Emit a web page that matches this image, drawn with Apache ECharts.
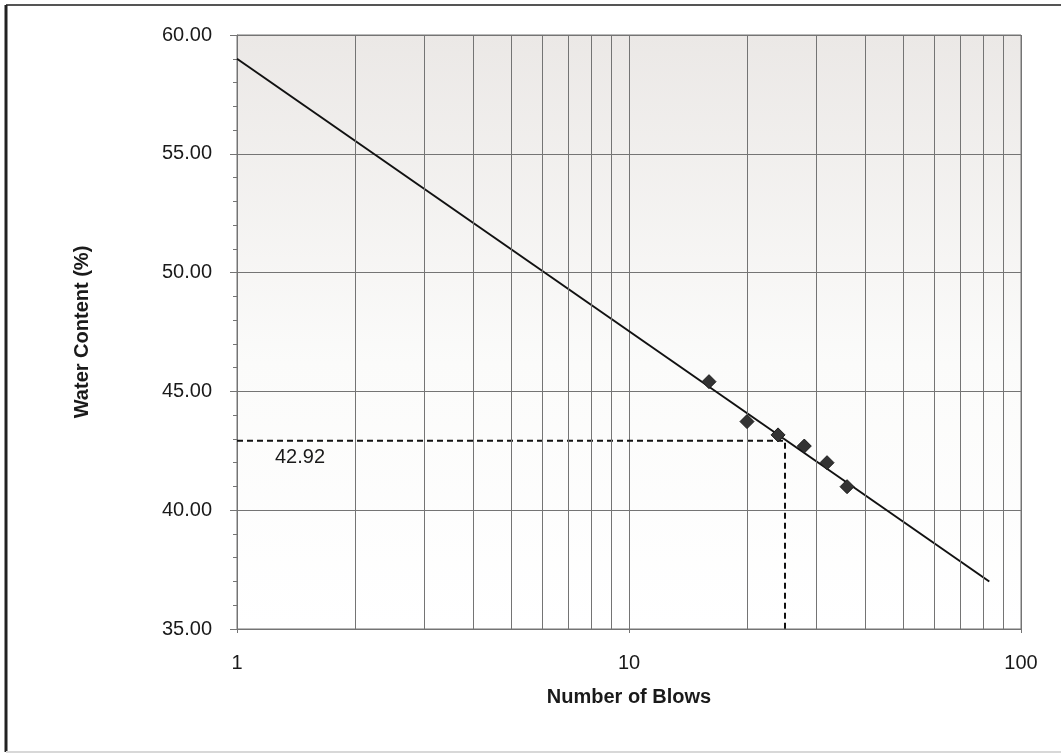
<!DOCTYPE html>
<html>
<head>
<meta charset="utf-8">
<script src="https://cdn.jsdelivr.net/npm/echarts@6/dist/echarts.min.js"></script>
<style>
  html, body { margin: 0; padding: 0; background: #ffffff; }
  #chart { width: 1061px; height: 755px; }
</style>
</head>
<body>
<div id="chart"></div>
<script>
// Liquid limit test: blows vs. water content
const blows = [16, 20, 24, 28, 32, 36];
const waterContent = [45.41, 43.73, 43.17, 42.70, 42.00, 40.99];

// Flow line (best fit on the semi-log plot)
const flowX = [1, 83];
const flowY = [59.0, 37.0];

// Liquid limit read at 25 blows
const llBlows = 25;
const llValue = 42.92;

// Intermediate log grid lines
const minorGridX = [2, 3, 4, 5, 6, 7, 8, 9, 20, 30, 40, 50, 60, 70, 80, 90];

const yTicks = { min: 35, max: 60, step: 5 };

const font = '"Liberation Sans", Arial, sans-serif';
const gridColor = '#747474';
const textColor = '#1a1a1a';

const chart = echarts.init(document.getElementById('chart'));

chart.setOption({
  animation: false,
  backgroundColor: '#ffffff',
  graphic: [
    { type: 'line', shape: { x1: 6, y1: 5, x2: 1061, y2: 5 }, style: { stroke: '#555', lineWidth: 2 } },
    { type: 'line', shape: { x1: 6, y1: 5, x2: 6, y2: 752 }, style: { stroke: '#222', lineWidth: 3 } },
    { type: 'line', shape: { x1: 6, y1: 752, x2: 1061, y2: 752 }, style: { stroke: '#d8d8d8', lineWidth: 2 } }
  ],
  grid: {
    left: 237, top: 35, right: 40, bottom: 126,
    show: true,
    borderColor: gridColor,
    borderWidth: 1,
    backgroundColor: {
      type: 'linear', x: 0, y: 0, x2: 0, y2: 1,
      colorStops: [
        { offset: 0, color: '#ebe8e6' },
        { offset: 0.55, color: '#fbfbfa' },
        { offset: 1, color: '#ffffff' }
      ]
    }
  },
  xAxis: {
    type: 'log',
    logBase: 10,
    min: 1,
    max: 100,
    name: 'Number of Blows',
    nameLocation: 'middle',
    nameGap: 58,
    nameTextStyle: { fontFamily: font, fontSize: 20, fontWeight: 'bold', color: textColor },
    axisLine: { show: true, lineStyle: { color: gridColor } },
    axisTick: { show: true, length: 4, lineStyle: { color: gridColor } },
    axisLabel: { fontFamily: font, fontSize: 20, color: textColor, margin: 24 },
    splitLine: { show: true, lineStyle: { color: gridColor, width: 1 } }
  },
  yAxis: {
    type: 'value',
    min: yTicks.min,
    max: yTicks.max,
    interval: yTicks.step,
    name: 'Water Content (%)',
    nameLocation: 'middle',
    nameGap: 145,
    nameRotate: 90,
    nameTextStyle: { fontFamily: font, fontSize: 20, fontWeight: 'bold', color: textColor },
    axisLine: { show: true, lineStyle: { color: gridColor } },
    axisTick: { show: true, length: 7, lineStyle: { color: gridColor } },
    minorTick: { show: true, splitNumber: 5, length: 4, lineStyle: { color: gridColor } },
    axisLabel: {
      fontFamily: font, fontSize: 20, color: textColor, margin: 25,
      formatter: v => v.toFixed(2)
    },
    splitLine: { show: true, lineStyle: { color: gridColor, width: 1 } }
  },
  series: [
    {
      // intermediate vertical grid lines on the log axis
      type: 'line',
      data: [],
      silent: true,
      markLine: {
        silent: true,
        symbol: 'none',
        label: { show: false },
        lineStyle: { color: gridColor, width: 1, type: 'solid' },
        data: minorGridX.map(v => ({ xAxis: v }))
      }
    },
    {
      name: 'Flow line',
      type: 'line',
      data: flowX.map((x, i) => [x, flowY[i]]),
      symbol: 'none',
      lineStyle: { color: '#111', width: 2 },
      z: 3
    },
    {
      name: 'Liquid limit',
      type: 'line',
      data: [[flowX[0], llValue], [llBlows, llValue], [llBlows, yTicks.min]],
      symbol: 'none',
      lineStyle: { color: '#111', width: 2, type: [6, 4] },
      z: 3
    },
    {
      name: 'LL label',
      type: 'scatter',
      data: [[flowX[0], llValue]],
      symbolSize: 0,
      itemStyle: { opacity: 1 },
      label: {
        show: true,
        position: 'inside',
        offset: [63, 17],
        formatter: p => p.value[1].toFixed(2),
        fontFamily: font, fontSize: 20, color: textColor, opacity: 1
      },
      z: 4
    },
    {
      name: 'Test points',
      type: 'scatter',
      data: blows.map((b, i) => [b, waterContent[i]]),
      symbol: 'diamond',
      symbolSize: 14,
      itemStyle: { color: '#333333', borderColor: '#1a1a1a', borderWidth: 1, opacity: 1 },
      z: 5
    }
  ]
});
</script>
</body>
</html>
